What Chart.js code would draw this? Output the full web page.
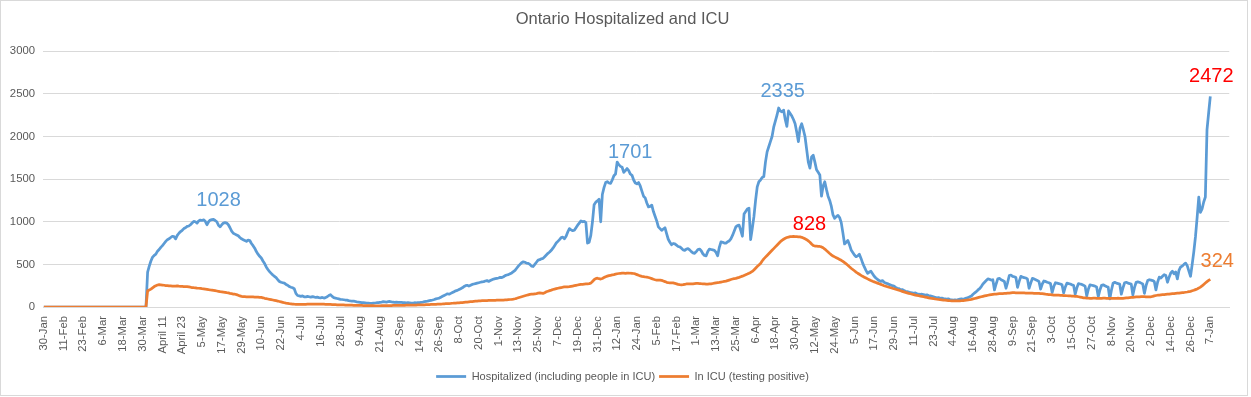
<!DOCTYPE html>
<html>
<head>
<meta charset="utf-8">
<title>Ontario Hospitalized and ICU</title>
<script src="https://cdn.jsdelivr.net/npm/chart.js@4/dist/chart.umd.min.js"></script>
<style>
  html, body { margin: 0; padding: 0; background: #fff; }
  canvas { display: block; }
</style>
</head>
<body>
<canvas id="myChart" width="1251" height="397"></canvas>
<script>
// one label every 12 days, starting 30-Jan-2020
const tickLabels = ['30-Jan','11-Feb','23-Feb','6-Mar','18-Mar','30-Mar','April 11','April 23','5-May','17-May',
  '29-May','10-Jun','22-Jun','4-Jul','16-Jul','28-Jul','9-Aug','21-Aug','2-Sep','14-Sep',
  '26-Sep','8-Oct','20-Oct','1-Nov','13-Nov','25-Nov','7-Dec','19-Dec','31-Dec','12-Jan',
  '24-Jan','5-Feb','17-Feb','1-Mar','13-Mar','25-Mar','6-Apr','18-Apr','30-Apr','12-May',
  '24-May','5-Jun','17-Jun','29-Jun','11-Jul','23-Jul','4-Aug','16-Aug','28-Aug','9-Sep',
  '21-Sep','3-Oct','15-Oct','27-Oct','8-Nov','20-Nov','2-Dec','14-Dec','26-Dec','7-Jan'];

// Hospitalized (including people in ICU), daily, 30-Jan-2020 .. 31-Dec-2020
const hosp2020 = [
  0,0,0,0,0,0,0,0,0,0,0,0,
  0,0,0,0,0,0,0,0,0,0,0,0,
  0,0,0,0,0,0,0,0,0,0,0,0,
  0,0,0,0,0,0,0,0,0,0,0,0,
  0,0,0,0,0,0,0,0,0,0,0,0,
  0,0,0,410,480,540,585,605,620,655,675,700,
  720,745,770,790,800,815,830,825,800,840,865,885,
  900,920,930,945,950,965,985,1005,1000,985,1010,1020,
  1015,1022,1005,965,1000,1020,1025,1028,1015,1000,960,940,
  965,985,990,985,965,930,890,865,855,845,835,815,
  800,790,780,770,785,780,745,720,690,650,620,595,
  575,540,510,470,440,415,395,375,360,345,320,300,
  290,285,280,265,255,240,232,225,215,160,135,130,
  125,130,120,118,125,120,115,122,118,112,115,110,
  108,112,105,110,120,135,145,125,110,105,100,95,
  90,88,85,82,80,75,72,70,68,65,60,58,
  55,52,50,48,46,45,44,43,45,47,50,52,
  55,58,62,60,58,62,65,60,58,55,57,55,
  53,55,52,50,48,50,48,45,47,50,48,50,
  52,55,58,62,65,70,74,78,82,88,95,100,
  105,115,125,135,145,155,150,160,170,180,190,195,
  205,215,225,240,250,255,245,255,265,270,275,280,
  285,290,295,298,305,310,300,310,320,328,332,336,
  340,348,345,355,368,375,380,390,400,415,430,455,
  480,500,520,530,525,515,512,500,480,475,500,525,
  550,555,565,570,590,610,630,645,665,690,720,750,
  770,790,815,820,800,830,880,920,905,895,900,930,
  960,985,1010,1000,1005,990,750,760,840,1000,1200,1230,
  1245];

// 1-Jan-2021 .. 31-Dec-2021
const hosp2021 = [
  1265,1000,1320,1400,1460,1470,1455,1450,1490,1540,1560,
  1701,1670,1650,1640,1580,1600,1625,1600,1560,1545,1490,1455,
  1445,1460,1420,1360,1300,1280,1220,1175,1180,1195,1120,1065,
  1010,940,920,900,915,930,860,795,760,730,745,740,
  725,710,705,690,670,665,680,685,670,650,635,630,
  650,675,680,660,625,605,600,650,680,675,670,665,
  640,600,700,765,760,750,750,765,775,800,840,890,
  940,955,960,900,830,1090,1120,1150,1160,790,920,1060,
  1250,1410,1470,1490,1520,1530,1700,1820,1880,1940,2000,2110,
  2180,2250,2335,2300,2290,2310,2200,2120,2300,2270,2240,2200,
  2150,2050,1940,2100,2150,2080,2000,1850,1700,1630,1760,1780,
  1700,1610,1580,1550,1300,1420,1470,1380,1300,1250,1180,1080,
  1040,1060,1075,1050,990,870,740,760,780,730,670,640,
  610,590,600,620,570,515,470,430,395,410,420,390,
  360,340,325,310,300,310,290,280,275,265,258,250,
  245,230,220,215,200,205,195,185,180,175,170,165,
  160,165,155,150,148,150,145,140,142,135,130,125,
  120,112,108,110,102,105,98,95,92,95,88,85,
  82,85,80,88,92,95,90,98,105,110,120,130,
  150,165,180,200,215,240,270,290,310,330,325,315,
  320,200,270,330,335,320,310,300,220,290,370,375,
  360,355,345,230,300,360,350,345,340,330,220,280,
  335,330,320,310,300,210,270,305,300,290,285,275,
  170,240,285,280,275,270,260,165,235,280,275,270,
  260,255,150,225,275,270,265,255,245,130,210,260,
  255,250,245,235,120,200,255,260,250,240,235,95,
  200,280,290,280,275,270,150,225,285,290,280,275,
  270,140,230,290,295,290,280,270,160,250,310,320,
  315,310,300,200,290,350,340,360,380,370,290,350,
  400,420,390,410,330,430,470,480,500,515,485,420,
  360,500,650,825,1050,1290];

// 1-Jan-2022 .. 7-Jan-2022
const hosp2022 = [1110,1150,1232,1290,2081,2279,2472];

// In ICU (testing positive), same days
const icu2020 = [
  0,0,0,0,0,0,0,0,0,0,0,0,
  0,0,0,0,0,0,0,0,0,0,0,0,
  0,0,0,0,0,0,0,0,0,0,0,0,
  0,0,0,0,0,0,0,0,0,0,0,0,
  0,0,0,0,0,0,0,0,0,0,0,0,
  0,0,0,190,200,210,225,240,250,258,262,260,
  258,255,252,250,248,248,246,245,244,248,245,243,
  242,240,240,238,235,232,228,226,225,222,220,218,
  215,213,210,207,203,200,198,195,192,188,184,180,
  178,175,172,168,165,160,156,152,150,145,138,130,
  125,122,121,120,120,119,118,118,117,116,116,114,
  112,108,102,98,94,90,86,82,78,74,70,65,
  60,55,50,45,42,39,37,35,33,32,31,30,
  30,31,30,32,33,34,35,34,33,33,34,35,
  35,34,33,32,31,30,30,29,28,27,26,26,
  25,24,24,23,22,22,21,21,20,20,19,19,
  18,18,17,17,16,16,15,15,15,14,14,14,
  14,15,15,16,16,16,17,17,18,18,18,19,
  19,20,20,20,21,21,22,22,22,23,23,24,
  24,25,26,26,27,28,29,30,30,31,32,33,
  34,35,36,38,39,40,41,42,44,45,46,47,
  48,50,52,54,56,58,60,62,64,66,68,70,
  72,73,74,75,76,76,77,78,78,79,79,80,
  80,81,81,82,83,84,86,88,90,93,97,102,
  108,114,120,126,132,138,143,148,150,152,155,158,
  162,165,163,160,168,178,185,192,198,205,210,215,
  220,224,228,232,235,236,237,238,242,246,250,254,
  258,262,265,266,268,270,272,275,280,300,320,334,
  338];

const icu2021 = [
  332,328,335,345,355,362,368,372,376,380,385,
  390,393,395,397,396,395,397,398,396,395,393,388,
  380,372,365,360,356,352,350,346,340,333,326,320,
  316,314,316,312,305,298,290,286,284,284,282,278,
  272,266,262,260,262,266,270,272,270,270,272,274,
  276,276,275,273,272,270,268,268,270,272,276,280,
  284,286,288,292,296,300,304,310,316,322,328,333,
  336,342,348,355,362,370,378,386,395,405,418,435,
  455,475,492,510,540,565,585,605,625,645,665,685,
  705,725,745,765,782,795,806,815,820,825,826,828,
  827,826,824,822,818,810,800,790,775,760,740,722,
  715,714,712,710,705,695,680,662,645,628,612,598,
  588,578,568,558,548,535,520,505,490,472,455,440,
  425,410,396,384,372,360,350,340,330,320,310,302,
  295,288,280,272,265,258,250,244,238,232,226,220,
  214,208,202,196,190,184,178,172,166,160,155,150,
  145,140,136,132,128,124,120,116,112,108,104,100,
  97,94,91,88,86,84,82,80,78,76,74,73,
  72,71,71,72,73,74,76,78,80,83,86,90,
  95,100,105,110,115,120,125,130,134,138,141,144,
  147,150,152,154,156,157,158,159,160,162,164,166,
  168,168,167,166,166,166,166,165,164,163,162,162,
  162,161,160,160,160,158,156,153,150,148,146,144,
  142,140,140,139,138,137,136,134,133,132,131,130,
  129,128,126,124,120,116,112,108,106,104,103,102,
  102,103,103,102,101,101,102,103,103,102,101,100,
  100,101,102,102,103,102,101,102,104,106,108,110,
  112,114,116,118,119,120,121,122,122,120,118,118,
  120,124,130,135,138,140,142,144,146,148,150,152,
  154,156,158,160,162,164,166,168,170,173,176,180,
  184,190,196,204,212,222];

const icu2022 = [234,248,265,282,298,312,324];

// days (index from 30-Jan-2020) that carry a value label
const hospLabelDays = [103, 348, 446, 708];
const icuLabelDays = [455, 708];

const hospitalized = hosp2020.concat(hosp2021, hosp2022);
const icu = icu2020.concat(icu2021, icu2022);

// the sheet's date column runs a few days past the last row of data
const axisDays = 720;
const categories = [];
for (let i = 0; i < axisDays; i++) {
  categories.push(i % 12 === 0 && tickLabels[i / 12] ? tickLabels[i / 12] : '');
}

const BLUE = '#5b9bd5';
const ORANGE = '#ed7d31';
const RED = '#ff0000';
const GREY_TEXT = '#595959';
const GRID = '#d9d9d9';

// label styling per labelled point (offsets in px from the point)
const valueLabels = [
  { data: hospitalized, day: hospLabelDays[0], color: BLUE, dx: 5, dy: -19 },
  { data: hospitalized, day: hospLabelDays[1], color: BLUE, dx: 13, dy: -10 },
  { data: hospitalized, day: hospLabelDays[2], color: BLUE, dx: 4, dy: -16 },
  { data: hospitalized, day: hospLabelDays[3], color: RED, dx: 1, dy: -20 },
  { data: icu, day: icuLabelDays[0], color: RED, dx: 16, dy: -12 },
  { data: icu, day: icuLabelDays[1], color: ORANGE, dx: 7, dy: -18 }
];

const frame = {
  id: 'frame',
  beforeDraw(chart) {
    const ctx = chart.ctx;
    ctx.save();
    ctx.fillStyle = '#fff';
    ctx.fillRect(0, 0, chart.width, chart.height);
    ctx.strokeStyle = GRID;
    ctx.lineWidth = 1;
    ctx.strokeRect(0.5, 0.5, chart.width - 4, chart.height - 2);
    ctx.restore();
  }
};

const pointLabels = {
  id: 'pointLabels',
  afterDatasetsDraw(chart) {
    const ctx = chart.ctx;
    const xs = chart.scales.x, ys = chart.scales.y;
    ctx.save();
    ctx.font = '20px "Liberation Sans", Arial, sans-serif';
    ctx.textAlign = 'center';
    ctx.textBaseline = 'middle';
    valueLabels.forEach(function(l) {
      const v = l.data[l.day];
      ctx.fillStyle = l.color;
      ctx.fillText(String(v), xs.getPixelForValue(l.day) + l.dx, ys.getPixelForValue(v) + l.dy);
    });
    ctx.restore();
  }
};

Chart.defaults.font.family = '"Liberation Sans", Arial, sans-serif';
Chart.defaults.color = GREY_TEXT;

const ctx = document.getElementById('myChart').getContext('2d');
const myChart = new Chart(ctx, {
  type: 'line',
  data: {
    labels: categories,
    datasets: [
      {
        label: 'Hospitalized (including people in ICU)',
        data: hospitalized,
        borderColor: BLUE,
        backgroundColor: BLUE,
        borderWidth: 2.75,
        borderJoinStyle: 'round',
        pointRadius: 0,
        tension: 0,
        order: 1
      },
      {
        label: 'In ICU (testing positive)',
        data: icu,
        borderColor: ORANGE,
        backgroundColor: ORANGE,
        borderWidth: 2.75,
        borderJoinStyle: 'round',
        pointRadius: 0,
        tension: 0,
        order: 0
      }
    ]
  },
  options: {
    responsive: false,
    devicePixelRatio: 1,
    animation: false,
    layout: { padding: { left: 8, right: 14, top: 0, bottom: 5 } },
    plugins: {
      title: {
        display: true,
        text: 'Ontario Hospitalized and ICU',
        color: GREY_TEXT,
        font: { size: 16.5, weight: 'normal' },
        padding: { top: 10, bottom: 21.5 }
      },
      legend: {
        position: 'bottom',
        labels: {
          usePointStyle: true,
          pointStyle: 'line',
          pointStyleWidth: 30,
          padding: 4,
          color: GREY_TEXT,
          font: { size: 11 },
          sort: (a, b) => a.datasetIndex - b.datasetIndex
        }
      },
      tooltip: { enabled: false }
    },
    scales: {
      x: {
        type: 'category',
        offset: true,
        grid: { display: false, drawTicks: false },
        border: { display: true, color: GRID, width: 1 },
        ticks: {
          autoSkip: false,
          maxRotation: 90,
          minRotation: 90,
          padding: 9,
          color: GREY_TEXT,
          font: { size: 11.3 }
        },
        afterFit(scale) { scale.height = 60; }
      },
      y: {
        min: 0,
        max: 3000,
        ticks: {
          stepSize: 500,
          padding: 8,
          color: GREY_TEXT,
          font: { size: 11.3 },
          callback: (v) => String(v)
        },
        grid: { color: GRID, drawTicks: false },
        border: { display: false },
        afterFit(scale) { scale.width = 35; }
      }
    }
  },
  plugins: [frame, pointLabels]
});
</script>
</body>
</html>
